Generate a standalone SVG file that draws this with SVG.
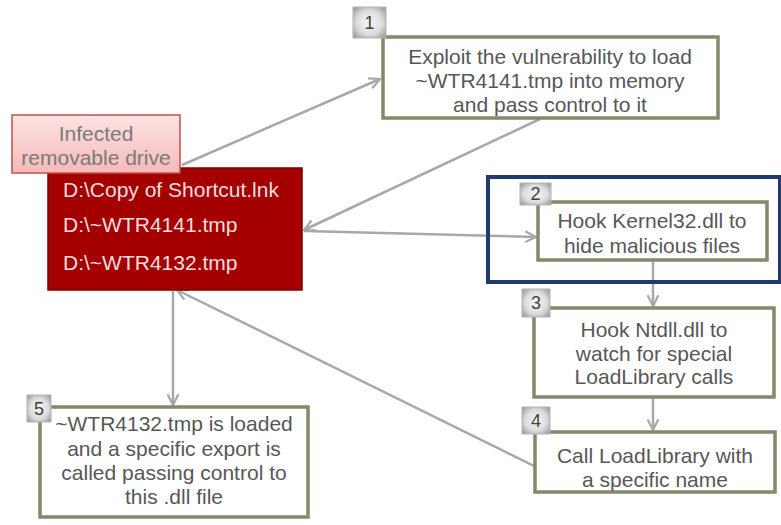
<svg xmlns="http://www.w3.org/2000/svg" width="781" height="525" viewBox="0 0 781 525">
<defs>
<style>
.box{fill:#ffffff;stroke:#87876a;stroke-width:3.5}
.t{font-family:"Liberation Sans",Arial,sans-serif;font-size:21px;fill:#575757;text-anchor:middle}
.w{font-family:"Liberation Sans",Arial,sans-serif;font-size:21px;fill:#f7dede}
.num{font-family:"Liberation Sans",Arial,sans-serif;font-size:18px;fill:#3f3f3f;text-anchor:middle}
.badge{fill:url(#bg);stroke:#b5b5b5;stroke-width:1}
.c{stroke:#a8a8a8;stroke-width:2.5;fill:none;marker-end:url(#ah)}
</style>
<radialGradient id="bg" cx="50%" cy="50%" r="65%">
<stop offset="0" stop-color="#f7f7f7"/>
<stop offset="0.6" stop-color="#dcdcdc"/>
<stop offset="1" stop-color="#9c9c9c"/>
</radialGradient>
<linearGradient id="pk" x1="0" y1="0" x2="0" y2="1">
<stop offset="0" stop-color="#fde3e3"/>
<stop offset="1" stop-color="#f6b9b9"/>
</linearGradient>
<marker id="ah" viewBox="0 0 12 12" refX="11" refY="6" markerWidth="13" markerHeight="13" markerUnits="userSpaceOnUse" orient="auto">
<path d="M1,1 L11,6 L1,11" fill="none" stroke="#a8a8a8" stroke-width="2"/>
</marker>
</defs>
<rect width="781" height="525" fill="#ffffff"/>

<g id="connectors">
<line class="c" x1="182" y1="165" x2="380" y2="79"/>
<line class="c" x1="540" y1="119" x2="304" y2="230"/>
<line class="c" x1="304" y1="231" x2="536" y2="237"/>
<line class="c" x1="653" y1="261" x2="653" y2="306"/>
<line class="c" x1="653" y1="398" x2="653" y2="430"/>
<line class="c" x1="534" y1="466" x2="177" y2="290"/>
<line class="c" x1="173" y1="291" x2="173" y2="405"/>
</g>

<g id="drive">
<rect x="48" y="168" width="254" height="122" fill="#a40000" stroke="#7d0000" stroke-width="1.5"/>
<text class="w" x="63" y="197">D:\Copy of Shortcut.lnk</text>
<text class="w" x="63" y="232">D:\~WTR4141.tmp</text>
<text class="w" x="63" y="270">D:\~WTR4132.tmp</text>
</g>

<g id="drive-label">
<rect x="12" y="115" width="168" height="58" fill="url(#pk)" stroke="#c0504d" stroke-width="1.5"/>
<text class="t" x="96" y="141" style="fill:#7a7a7a">Infected</text>
<text class="t" x="96" y="165" style="fill:#7a7a7a">removable drive</text>
</g>

<g id="step1">
<rect class="box" x="383" y="37" width="335" height="81"/>
<rect class="badge" x="353" y="7" width="33" height="31"/>
<text class="num" x="369.5" y="29">1</text>
<text class="t" x="550" y="64">Exploit the vulnerability to load</text>
<text class="t" x="550" y="88">~WTR4141.tmp into memory</text>
<text class="t" x="550" y="112">and pass control to it</text>
</g>

<g id="step2">
<rect class="box" x="538" y="202" width="229" height="58"/>
<rect class="badge" x="520" y="183" width="31" height="22"/>
<text class="num" x="535.5" y="200">2</text>
<text class="t" x="652" y="228">Hook Kernel32.dll to</text>
<text class="t" x="652" y="253">hide malicious files</text>
</g>

<g id="step3">
<rect class="box" x="534" y="308" width="240" height="89"/>
<rect class="badge" x="522" y="289" width="28" height="28"/>
<text class="num" x="536" y="309">3</text>
<text class="t" x="654" y="337">Hook Ntdll.dll to</text>
<text class="t" x="654" y="360.5">watch for special</text>
<text class="t" x="654" y="384">LoadLibrary calls</text>
</g>

<g id="step4">
<rect class="box" x="535" y="432" width="240" height="60"/>
<rect class="badge" x="522" y="407" width="28" height="27"/>
<text class="num" x="536" y="427">4</text>
<text class="t" x="655" y="463">Call LoadLibrary with</text>
<text class="t" x="655" y="486.5">a specific name</text>
</g>

<g id="step5">
<rect class="box" x="40" y="407" width="268" height="110"/>
<rect class="badge" x="27" y="395" width="24" height="27"/>
<text class="num" x="39" y="415">5</text>
<text class="t" x="174" y="431">~WTR4132.tmp is loaded</text>
<text class="t" x="174" y="456">and a specific export is</text>
<text class="t" x="174" y="480">called passing control to</text>
<text class="t" x="174" y="504">this .dll file</text>
</g>

<g id="highlight">
<rect x="488" y="177" width="292" height="105" fill="none" stroke="#1f3a6e" stroke-width="4"/>
</g>
</svg>
